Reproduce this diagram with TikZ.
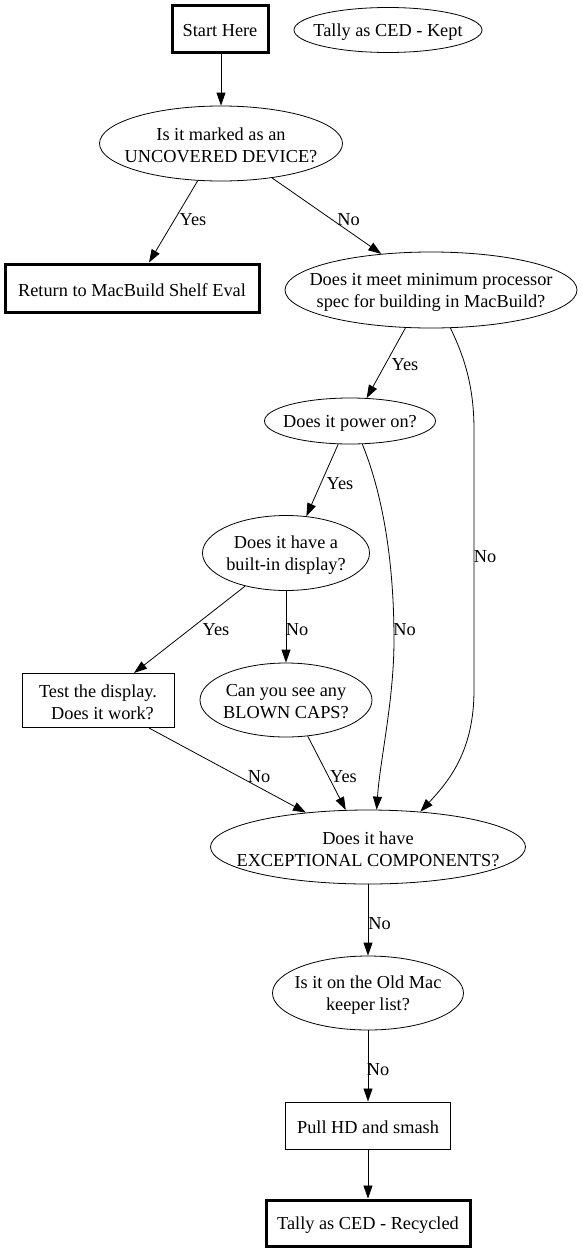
\documentclass[tikz,border=0pt]{standalone}
\usepackage{fontspec}
\setmainfont{Liberation Serif}
\usetikzlibrary{arrows.meta,shapes.geometric}
\begin{document}
\begin{tikzpicture}[x=1pt,y=-1pt,
  every node/.style={font=\fontsize{18.3}{22}\selectfont, align=center, inner sep=0pt},
  txt/.style={yshift=-2pt},
  box/.style={draw, line width=1pt, rectangle},
  tbox/.style={draw, line width=3pt, rectangle},
  oval/.style={draw, line width=0.8pt, ellipse},
  flow/.style={draw, line width=0.8pt, -{Triangle[length=13pt,width=9pt]}}
]
\fill[white] (0,0) rectangle (581,1253);
\useasboundingbox (0,0) rectangle (581,1253);

% nodes
\node[tbox, minimum width=96pt, minimum height=47pt] (start) at (220,28.5) {};
\node[txt] (startt) at (start) {Start Here};
\node[oval, minimum width=188pt, minimum height=45pt] (kept) at (388,30) {};
\node[txt] (keptt) at (kept) {Tally as CED - Kept};
\node[oval, minimum width=243pt, minimum height=75pt] (q1) at (221,143.5) {};
\node[txt] (q1t) at (q1) {Is it marked as an\\UNCOVERED DEVICE?};
\node[tbox, minimum width=254pt, minimum height=48pt] (ret) at (132,288) {};
\node[txt] (rett) at (ret) {Return to MacBuild Shelf Eval};
\node[oval, minimum width=292pt, minimum height=76pt] (q2) at (431,290) {};
\node[txt] (q2t) at (q2) {Does it meet minimum processor\\spec for building in MacBuild?};
\node[oval, minimum width=171pt, minimum height=46pt] (q3) at (350,421) {};
\node[txt] (q3t) at (q3) {Does it power on?};
\node[oval, minimum width=167pt, minimum height=75pt] (q4) at (286,553) {};
\node[txt] (q4t) at (q4) {Does it have a\\built-in display?};
\node[box, minimum width=152pt, minimum height=54pt] (test) at (98,700.5) {};
\node[txt] (testt) at (test) {Test the display.\\\hspace*{9pt}Does it work?};
\node[oval, minimum width=172pt, minimum height=74pt] (q5) at (286,700) {};
\node[txt] (q5t) at (q5) {Can you see any\\BLOWN CAPS?};
\node[oval, minimum width=315pt, minimum height=74pt] (q6) at (368,847) {};
\node[txt] (q6t) at (q6) {Does it have\\EXCEPTIONAL COMPONENTS?};
\node[oval, minimum width=191pt, minimum height=74pt] (q7) at (368,993) {};
\node[txt] (q7t) at (q7) {Is it on the Old Mac\\keeper list?};
\node[box, minimum width=165pt, minimum height=47pt] (pull) at (368,1125.5) {};
\node[txt] (pullt) at (pull) {Pull HD and smash};
\node[tbox, minimum width=204pt, minimum height=46pt] (rec) at (368,1223) {};
\node[txt] (rect) at (rec) {Tally as CED - Recycled};

% edges
\draw[flow] ([xshift=1pt]start.south) -- (q1.north);
\draw[flow] (q1.-122) -- ([xshift=17pt]ret.north);
\draw[flow] (q1.-34.4) -- (q2.144.5);
\draw[flow] (q2.-124.8) -- (q3.54.7);
\draw[flow] (q2.-63.3) .. controls (466,360) and (474,390) .. (474,430) -- (474,690) .. controls (474,750) and (450,780) .. (q6.34.2);
\draw[flow] (q3.-117.8) -- (q4.61.2);
\draw[flow] (q3.-62.2) .. controls (385,500) and (394,570) .. (394,640) .. controls (394,700) and (380,760) .. (q6.77);
\draw[flow] (q4.-141.4) -- ([xshift=36pt]test.north);
\draw[flow] (q4.south) -- (q5.north);
\draw[flow] ([xshift=51pt]test.south) -- (q6.151.9);
\draw[flow] (q5.-59.7) -- (q6.121.6);
\draw[flow] (q6.south) -- (q7.north);
\draw[flow] (q7.south) -- (pull.north);
\draw[flow] (pull.south) -- (rec.north);

% edge labels
\node[txt] (l1) at (193,218) {Yes};
\node[txt] (l2) at (348.5,218) {No};
\node[txt] (l3) at (405,363) {Yes};
\node[txt] (l4) at (485,555) {No};
\node[txt] (l5) at (340,482) {Yes};
\node[txt] (l6) at (404.5,628) {No};
\node[txt] (l7) at (216,628) {Yes};
\node[txt] (l8) at (297,628) {No};
\node[txt] (l9) at (259,775) {No};
\node[txt] (l10) at (343.5,775) {Yes};
\node[txt] (l11) at (379.5,922) {No};
\node[txt] (l12) at (378,1068) {No};
\end{tikzpicture}
\end{document}
